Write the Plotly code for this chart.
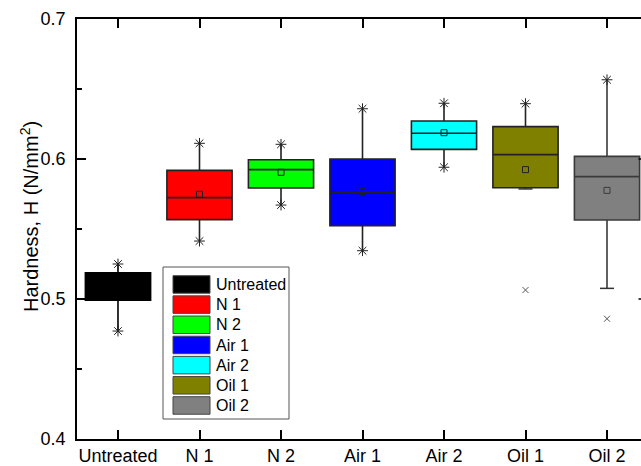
import plotly.graph_objects as go

categories = ["Untreated", "N 1", "N 2", "Air 1", "Air 2", "Oil 1", "Oil 2"]
colors = ["#000000", "#FF0000", "#00FF00", "#0000FF", "#00FFFF", "#808000", "#808080"]
q1 = [0.4991, 0.5567, 0.5793, 0.5524, 0.6069, 0.5795, 0.5564]
median = [0.5100, 0.5724, 0.5924, 0.5762, 0.6184, 0.6031, 0.5874]
q3 = [0.5188, 0.5919, 0.5995, 0.6000, 0.6271, 0.6231, 0.6019]
mean = [0.5090, 0.5748, 0.5905, 0.5767, 0.6188, 0.5924, 0.5776]
upper = [0.5250, 0.6112, 0.6105, 0.6359, 0.6398, 0.6395, 0.6566]
lower = [0.4771, 0.5414, 0.5671, 0.5345, 0.5941, 0.5786, 0.5076]
lower_star = [True, True, True, True, True, False, False]
outlier_x = [5, 6]
outlier_y = [0.5064, 0.4859]

W, H = 641, 466
L, R, T, B = 77, 641, 19, 439

def px(x):
    return (x - L) / (R - L)

def py(y):
    return (B - y) / (B - T)

line_colors = ["#000000", "#222222", "#222222", "#222222", "#222222", "#222222", "#3a3a3a"]

fig = go.Figure()
for i, c in enumerate(categories):
    fig.add_trace(go.Box(
        x=[i], q1=[q1[i]], median=[median[i]], q3=[q3[i]],
        lowerfence=[lower[i]], upperfence=[upper[i]],
        width=0.8, fillcolor=colors[i], line=dict(color=line_colors[i], width=1.6),
        whiskerwidth=0, boxpoints=False, showlegend=False, hoverinfo="skip",
    ))

# mean squares
fig.add_trace(go.Scatter(
    x=list(range(len(categories))), y=mean, mode="markers",
    marker=dict(symbol="square-open", size=6, color=line_colors, line=dict(width=1)),
    showlegend=False, hoverinfo="skip"))

# stars at whisker ends
sx = list(range(len(categories))) + [i for i in range(len(categories)) if lower_star[i]]
sy = upper + [lower[i] for i in range(len(categories)) if lower_star[i]]
fig.add_trace(go.Scatter(
    x=sx, y=sy, mode="markers",
    marker=dict(symbol="asterisk-open", size=9, color="#222222", line=dict(width=1, color="#222222")),
    showlegend=False, hoverinfo="skip"))

# min caps
cx = [i for i in range(len(categories)) if not lower_star[i]]
cy = [lower[i] for i in cx]
fig.add_trace(go.Scatter(
    x=cx, y=cy, mode="markers",
    marker=dict(symbol="line-ew-open", size=10, color="#333333", line=dict(width=1.5, color="#333333")),
    showlegend=False, hoverinfo="skip"))

# outliers
fig.add_trace(go.Scatter(
    x=outlier_x, y=outlier_y, mode="markers",
    marker=dict(symbol="x-thin-open", size=6, color="#555555", line=dict(width=1, color="#555555")),
    showlegend=False, hoverinfo="skip"))

# manual legend
shapes = []
annotations = []
shapes.append(dict(type="rect", xref="paper", yref="paper",
                   x0=px(163), x1=px(289), y0=py(419), y1=py(267),
                   line=dict(color="#555555", width=1), fillcolor="white", layer="above"))
for k, c in enumerate(categories):
    top = 275.7 + k * 20.17
    shapes.append(dict(type="rect", xref="paper", yref="paper",
                       x0=px(173), x1=px(210), y0=py(top + 17.5), y1=py(top),
                       line=dict(color="#444444", width=1), fillcolor=colors[k], layer="above"))
    annotations.append(dict(xref="paper", yref="paper", x=px(214), y=py(top + 8.8),
                            text=c, showarrow=False, xanchor="left", yanchor="middle",
                            font=dict(family="Liberation Sans, Arial", size=16, color="black")))

# y-axis title as annotation
annotations.append(dict(xref="paper", yref="paper", x=px(29), y=py(217),
                        text="Hardness, H (N/mm<sup>2</sup>)", textangle=-90, showarrow=False,
                        xanchor="center", yanchor="middle",
                        font=dict(family="Liberation Sans, Arial", size=20, color="black")))

# partial right-axis ticks visible at the right edge
for v in [0.5, 0.6]:
    yy = (v - 0.4) / 0.3
    shapes.append(dict(type="line", xref="paper", yref="paper", x0=px(638.5), x1=1.0,
                       y0=yy, y1=yy, line=dict(color="black", width=1.5)))

fig.update_layout(
    width=W, height=H,
    margin=dict(l=L, r=W - R, t=T, b=H - B),
    paper_bgcolor="white", plot_bgcolor="white",
    boxmode="overlay",
    font=dict(family="Liberation Sans, Arial", color="black"),
    shapes=shapes, annotations=annotations,
    xaxis=dict(
        range=[-0.503, (R - 118) / 81.5], tickvals=list(range(len(categories))),
        ticktext=categories, showgrid=False, zeroline=False,
        showline=True, linecolor="black", linewidth=1.5, mirror="ticks",
        ticks="inside", ticklen=9, tickwidth=1.5, tickcolor="black",
        tickfont=dict(size=18, family="Liberation Sans, Arial"),
    ),
    yaxis=dict(
        range=[0.4, 0.7], tickvals=[0.4, 0.5, 0.6, 0.7], ticktext=["0.4", "0.5", "0.6", "0.7"],
        showgrid=False, zeroline=False, showline=True, linecolor="black", linewidth=1.5,
        ticks="inside", ticklen=9, tickwidth=1.5, tickcolor="black",
        minor=dict(dtick=0.05, tick0=0.4, ticks="inside", ticklen=5, tickwidth=1.5, tickcolor="black"),
        tickfont=dict(size=18, family="Liberation Sans, Arial"),
        ticklabelstandoff=6,
    ),
)

fig.write_html("out.html")
